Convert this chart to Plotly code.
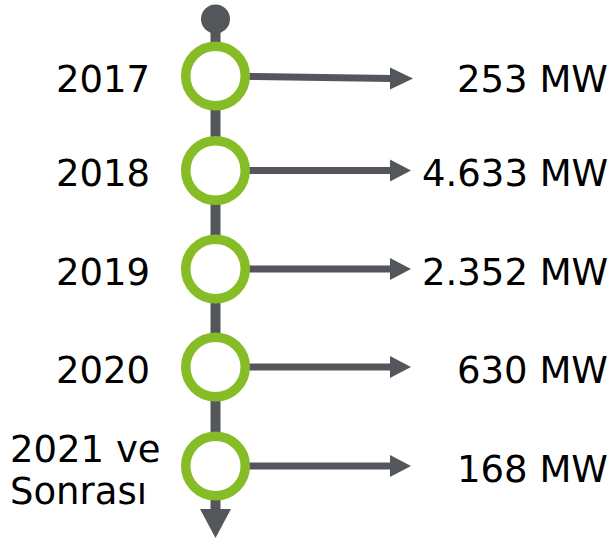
import plotly.graph_objects as go

# ---- data ----
years = ["2017", "2018", "2019", "2020", "2021 ve<br>Sonrası"]
capacity_mw = ["253", "4.633", "2.352", "630", "168"]
unit = "MW"

# ---- layout constants (pixel space) ----
W, H = 615, 539
GREEN = "#86BC25"
GRAY = "#53565A"
FONT = "DejaVu Sans"
ROW_Y = [76, 170.5, 269, 367, 466]
CX = 215.5
HEAD_BASE_X = 390
HEAD_TIP_X = 411
HEAD_HALF = 11
END_DY = [2.5, 0, 0, 0, 0]

fig = go.Figure()

# vertical spine
fig.add_trace(go.Scatter(x=[CX, CX], y=[19, 515], mode="lines",
                         line=dict(color=GRAY, width=10), hoverinfo="skip"))
# top dot
fig.add_trace(go.Scatter(x=[CX], y=[19], mode="markers",
                         marker=dict(size=29, color=GRAY, line=dict(width=0)), hoverinfo="skip"))
# bottom arrow head
fig.add_trace(go.Scatter(x=[CX - 15.5, CX + 15.5, CX, CX - 15.5], y=[509, 509, 538, 509],
                         mode="lines", fill="toself", fillcolor=GRAY,
                         line=dict(color=GRAY, width=0), hoverinfo="skip"))

# horizontal arrows
for i, y in enumerate(ROW_Y):
    ye = y + END_DY[i]
    fig.add_trace(go.Scatter(x=[CX, HEAD_BASE_X + 2], y=[y, ye], mode="lines",
                             line=dict(color=GRAY, width=7), hoverinfo="skip"))
    tip = HEAD_TIP_X + (2 if i == 0 else 0)
    fig.add_trace(go.Scatter(x=[HEAD_BASE_X, HEAD_BASE_X, tip, HEAD_BASE_X],
                             y=[ye - HEAD_HALF, ye + HEAD_HALF, ye, ye - HEAD_HALF],
                             mode="lines", fill="toself", fillcolor=GRAY,
                             line=dict(color=GRAY, width=0), hoverinfo="skip"))

# circles
fig.add_trace(go.Scatter(x=[CX] * len(years), y=ROW_Y, mode="markers",
                         marker=dict(size=59.5, color="white",
                                     line=dict(color=GREEN, width=9.5)),
                         hoverinfo="skip"))

annotations = []
for i, (yr, val) in enumerate(zip(years, capacity_mw)):
    y = ROW_Y[i]
    lines = yr.split("<br>")
    if len(lines) == 1:
        annotations.append(dict(x=152, y=y + 3, text=yr, xanchor="right", yanchor="middle",
                                showarrow=False, font=dict(family=FONT, size=37, color="black")))
    else:
        for k, ln in enumerate(lines):
            annotations.append(dict(x=8, y=y - 17 + k * 42, text=ln, xanchor="left",
                                    yanchor="middle", showarrow=False,
                                    font=dict(family=FONT, size=37, color="black")))
    annotations.append(dict(x=610, y=y + 3, text=f"{val} {unit}", xanchor="right",
                            yanchor="middle", showarrow=False,
                            font=dict(family=FONT, size=37, color="black")))

fig.update_layout(
    width=W, height=H, margin=dict(l=0, r=0, t=0, b=0),
    paper_bgcolor="white", plot_bgcolor="white", showlegend=False,
    xaxis=dict(range=[0, W], visible=False, fixedrange=True),
    yaxis=dict(range=[H, 0], visible=False, fixedrange=True),
    annotations=annotations,
)

fig.write_html("out.html", config={"displayModeBar": False},
               post_script="document.body.style.margin='0px';document.body.style.overflow='hidden';")
